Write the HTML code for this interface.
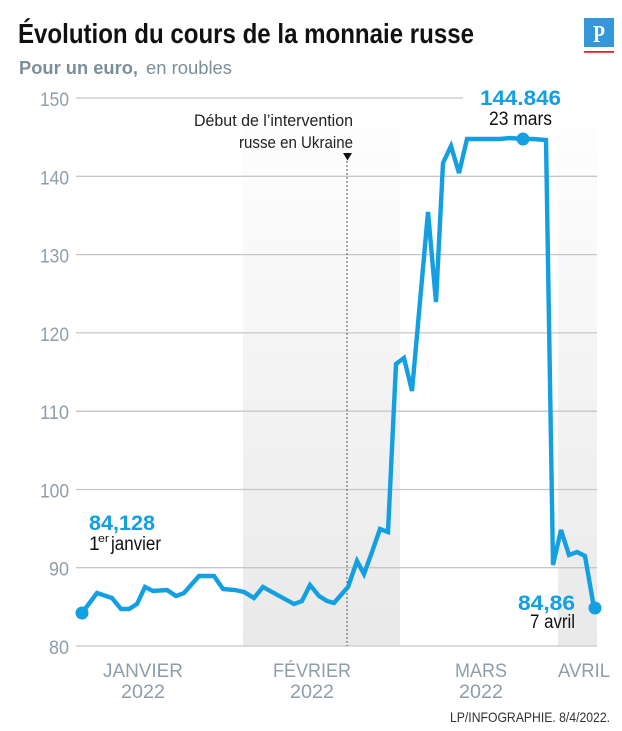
<!DOCTYPE html>
<html><head><meta charset="utf-8"><style>
html,body{margin:0;padding:0;background:#fff;}
svg{display:block;}
</style></head><body>
<svg width="622" height="731" viewBox="0 0 622 731" xmlns="http://www.w3.org/2000/svg" font-family="'Liberation Sans', sans-serif">
<defs>
<linearGradient id="band" x1="0" y1="90" x2="0" y2="646" gradientUnits="userSpaceOnUse">
<stop offset="0" stop-color="#ffffff"/>
<stop offset="1" stop-color="#e9e9e9"/>
</linearGradient>
</defs>
<rect width="622" height="731" fill="#fff"/>
<!-- bands -->
<rect x="243" y="90" width="157" height="556" fill="url(#band)"/>
<rect x="558" y="90" width="39" height="556" fill="url(#band)"/>
<!-- title -->
<text x="18" y="43" font-size="28" font-weight="bold" fill="#111" textLength="456" lengthAdjust="spacingAndGlyphs">Évolution du cours de la monnaie russe</text>
<!-- logo -->
<rect x="584" y="18" width="30" height="29" fill="#3597d8"/>
<text x="599" y="42" font-size="24" font-weight="bold" fill="#fff" text-anchor="middle" font-family="'Liberation Serif', serif" textLength="12" lengthAdjust="spacingAndGlyphs">P</text>
<rect x="584" y="51" width="30" height="1.8" fill="#e02626"/>
<!-- subtitle -->
<text x="19" y="74" font-size="18" font-weight="bold" fill="#7b8e9c" textLength="119" lengthAdjust="spacingAndGlyphs">Pour un euro,</text>
<text x="146" y="74" font-size="18" fill="#7b8e9c" textLength="86" lengthAdjust="spacingAndGlyphs">en roubles</text>
<!-- gridlines -->
<g stroke="#c6c6c6" stroke-width="1.3">
<line x1="76" y1="98" x2="463" y2="98"/>
<line x1="76" y1="176.3" x2="597" y2="176.3"/>
<line x1="76" y1="254.6" x2="597" y2="254.6"/>
<line x1="76" y1="332.9" x2="597" y2="332.9"/>
<line x1="76" y1="411.2" x2="597" y2="411.2"/>
<line x1="76" y1="489.5" x2="597" y2="489.5"/>
<line x1="76" y1="567.7" x2="597" y2="567.7"/>
<line x1="76" y1="646" x2="597" y2="646"/>
</g>
<!-- y labels -->
<g font-size="19.5" fill="#8d9eab" text-anchor="end">
<text x="69" y="106" textLength="29" lengthAdjust="spacingAndGlyphs">150</text>
<text x="69" y="184.3" textLength="29" lengthAdjust="spacingAndGlyphs">140</text>
<text x="69" y="262.6" textLength="29" lengthAdjust="spacingAndGlyphs">130</text>
<text x="69" y="340.9" textLength="29" lengthAdjust="spacingAndGlyphs">120</text>
<text x="69" y="419.2" textLength="29" lengthAdjust="spacingAndGlyphs">110</text>
<text x="69" y="497.5" textLength="29" lengthAdjust="spacingAndGlyphs">100</text>
<text x="69" y="575.7" textLength="20" lengthAdjust="spacingAndGlyphs">90</text>
<text x="69" y="654" textLength="20" lengthAdjust="spacingAndGlyphs">80</text>
</g>
<!-- annotation -->
<text x="353" y="126" font-size="17" fill="#222" text-anchor="end" textLength="159" lengthAdjust="spacingAndGlyphs">Début de l’intervention</text>
<text x="353" y="148" font-size="17" fill="#222" text-anchor="end" textLength="114" lengthAdjust="spacingAndGlyphs">russe en Ukraine</text>
<polygon points="343,153 352,153 347.5,160.5" fill="#111"/>
<line x1="347" y1="161" x2="347" y2="646" stroke="#555" stroke-width="1" stroke-dasharray="2,2"/>
<!-- data line -->
<polyline fill="none" stroke="#139fe2" stroke-width="4.4" stroke-linejoin="miter" stroke-miterlimit="3" points="82,613 97,593 112,598 121,609 129,609 137,604 145,587 153,591 167,590 176,596 184,593 199,576 214,576 223,589 235,590 244,592 254,598 263,587 272,592 294,604 302,601 310,585 319,596 327,601 334,603 348,587 357,561 364,574 372,552 380,529 388,532 396,364 404,358 412,391 428,212 436,302 443,163 451,146 459,173 467,139 500,139 510,138 523,139 533,139 546,140 553,565 561,530 569,555 577,552 585,556 594,608"/>
<circle cx="82" cy="613" r="6.5" fill="#139fe2"/>
<circle cx="523" cy="139" r="6.5" fill="#139fe2"/>
<circle cx="595" cy="608" r="6.5" fill="#139fe2"/>
<!-- value labels -->
<text x="520.5" y="105" font-size="21" font-weight="bold" fill="#139fe2" text-anchor="middle" textLength="81" lengthAdjust="spacingAndGlyphs">144.846</text>
<text x="520.5" y="125" font-size="19" fill="#111" text-anchor="middle" textLength="63" lengthAdjust="spacingAndGlyphs">23 mars</text>
<text x="89" y="530" font-size="21" font-weight="bold" fill="#139fe2" textLength="66" lengthAdjust="spacingAndGlyphs">84,128</text>
<text x="89" y="550" font-size="19" fill="#111">1</text>
<text x="98" y="542" font-size="11" fill="#111" textLength="11" lengthAdjust="spacingAndGlyphs">er</text>
<text x="111" y="550" font-size="19" fill="#111" textLength="50" lengthAdjust="spacingAndGlyphs">janvier</text>
<text x="575" y="610" font-size="21" font-weight="bold" fill="#139fe2" text-anchor="end" textLength="57" lengthAdjust="spacingAndGlyphs">84,86</text>
<text x="575" y="628" font-size="19" fill="#111" text-anchor="end" textLength="45" lengthAdjust="spacingAndGlyphs">7 avril</text>
<!-- x labels -->
<g font-size="19" fill="#8d9eab" text-anchor="middle">
<text x="143" y="677" textLength="80" lengthAdjust="spacingAndGlyphs">JANVIER</text>
<text x="143" y="698" textLength="44" lengthAdjust="spacingAndGlyphs">2022</text>
<text x="312" y="677" textLength="78" lengthAdjust="spacingAndGlyphs">FÉVRIER</text>
<text x="312" y="698" textLength="44" lengthAdjust="spacingAndGlyphs">2022</text>
<text x="481" y="677" textLength="52" lengthAdjust="spacingAndGlyphs">MARS</text>
<text x="481" y="698" textLength="44" lengthAdjust="spacingAndGlyphs">2022</text>
<text x="584" y="677" textLength="52" lengthAdjust="spacingAndGlyphs">AVRIL</text>
</g>
<!-- source -->
<text x="610" y="722" font-size="14" fill="#333" text-anchor="end" textLength="160" lengthAdjust="spacingAndGlyphs">LP/INFOGRAPHIE.  8/4/2022.</text>
</svg>
</body></html>
